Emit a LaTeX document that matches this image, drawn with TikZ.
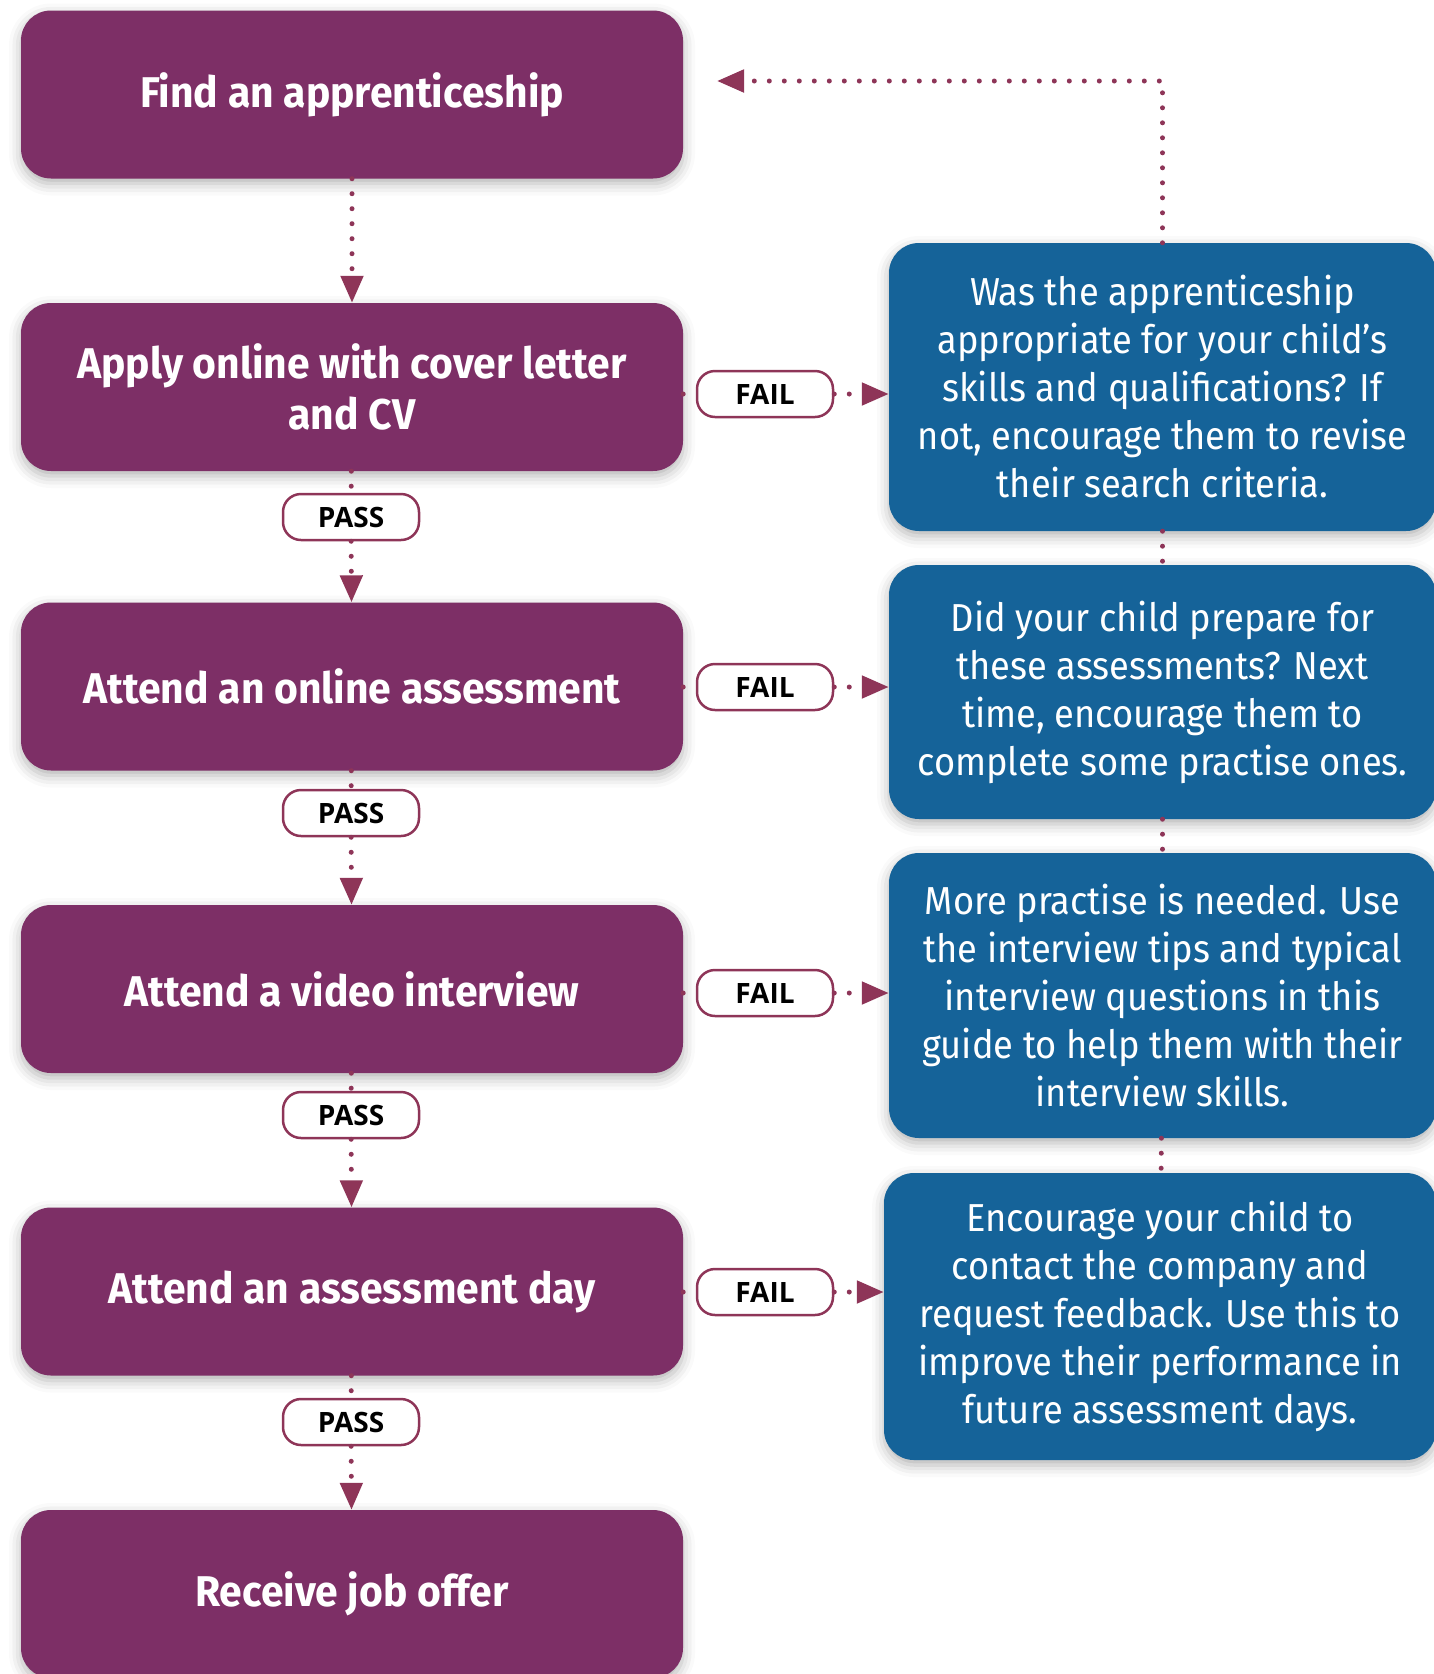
\documentclass[tikz,border=0pt]{standalone}
\usepackage{fontspec}
\setmainfont{Fira Sans}
\newfontfamily\stepfont{Fira Sans}[FakeStretch=0.95]
\newfontfamily\hintfont{Fira Sans}[FakeStretch=0.93]
\newfontfamily\tagfont{Open Sans}
\usetikzlibrary{arrows.meta,shadows.blur}
\definecolor{stepPurple}{RGB}{125,47,102}
\definecolor{hintBlue}{RGB}{21,99,153}
\definecolor{linkRed}{RGB}{142,53,88}

\begin{document}
\begin{tikzpicture}
	[
		x=1pt, y=-1pt,
		S/.style = {rectangle, rounded corners=30pt, align=center, fill=stepPurple, text=white, minimum width=662pt, minimum height=168pt, font=\stepfont\bfseries\fontsize{43}{51}\selectfont, blur shadow={shadow xshift=0pt, shadow yshift=-5pt, shadow blur radius=12pt, shadow opacity=30}},
		H/.style = {rectangle, rounded corners=30pt, align=center, fill=hintBlue, text=white, minimum width=547pt, font=\hintfont\fontsize{39}{48}\selectfont, blur shadow={shadow xshift=0pt, shadow yshift=-5pt, shadow blur radius=12pt, shadow opacity=30}},
		L/.style = {rectangle, rounded corners=18pt, align=center, draw=linkRed, line width=2.5pt, fill=white, minimum width=136pt, minimum height=46pt, font=\tagfont\bfseries\fontsize{28}{30}\selectfont},
		link/.style = {linkRed, line width=5pt, line cap=round, dash pattern=on 0pt off 15pt},
		tip/.style = {link, -{Triangle[length=27pt,width=22pt]}},
	]

	\useasboundingbox (0,0) rectangle (1433,1674);

	% steps
	\node[S] (s1) 	at ( 352,   94.5 ) {Find an apprenticeship};
	\node[S] (s2) 	at ( 352,  387.0 ) {Apply online with cover letter\\and CV};
	\node[S] (s3) 	at ( 352,  686.5 ) {Attend an online assessment};
	\node[S] (s4) 	at ( 352,  989.0 ) {Attend a video interview};
	\node[S] (s5) 	at ( 352, 1291.5 ) {Attend an assessment day};
	\node[S] (s6) 	at ( 352, 1594.0 ) {Receive job offer};

	% pass tags
	\node[L] (p1) 	at ( 351,  517 ) {PASS};
	\node[L] (p2) 	at ( 351,  813 ) {PASS};
	\node[L] (p3) 	at ( 351, 1115 ) {PASS};
	\node[L] (p4) 	at ( 351, 1422 ) {PASS};

	% fail tags
	\node[L] (f1) 	at ( 765,  394 ) {FAIL};
	\node[L] (f2) 	at ( 765,  687 ) {FAIL};
	\node[L] (f3) 	at ( 765,  993 ) {FAIL};
	\node[L] (f4) 	at ( 765, 1292 ) {FAIL};

	% hints
	\node[H, minimum height=288pt] (h1) 	at ( 1162.5,  387.0 ) {Was the apprenticeship\\appropriate for your child’s\\skills and qualifications? If\\not, encourage them to revise\\their search criteria.};
	\node[H, minimum height=254pt] (h2) 	at ( 1162.5,  692.0 ) {Did your child prepare for\\these assessments? Next\\time, encourage them to\\complete some practise ones.};
	\node[H, minimum height=285pt] (h3) 	at ( 1162.5,  995.5 ) {More practise is needed. Use\\the interview tips and typical\\interview questions in this\\guide to help them with their\\interview skills.};
	\node[H, minimum height=287pt, minimum width=552pt] (h4) 	at ( 1160.0, 1316.5 ) {Encourage your child to\\contact the company and\\request feedback. Use this to\\improve their performance in\\future assessment days.};

	\coordinate (back) at ( 717, 81 );

	\foreach \from/\to in {s2/p1,s3/p2,s4/p3,s5/p4,h1/h2,h2/h3,h3/h4}
	\draw[link] (\from) -- (\to);

	\foreach \from/\to in {s2/f1,s3/f2,s4/f3,s5/f4}
	\draw[link] (\to -| \from.east) -- (\to);

	\foreach \from/\to in {s1/s2,p1/s3,p2/s4,p3/s5,p4/s6}
	\draw[tip] (\from) -- (\to);

	\foreach \from/\to in {f1/h1,f2/h2,f3/h3,f4/h4}
	\draw[tip] (\from) -- (\from -| \to.west);

	\draw[tip] (h1) |- (back);

\end{tikzpicture}
\end{document}
